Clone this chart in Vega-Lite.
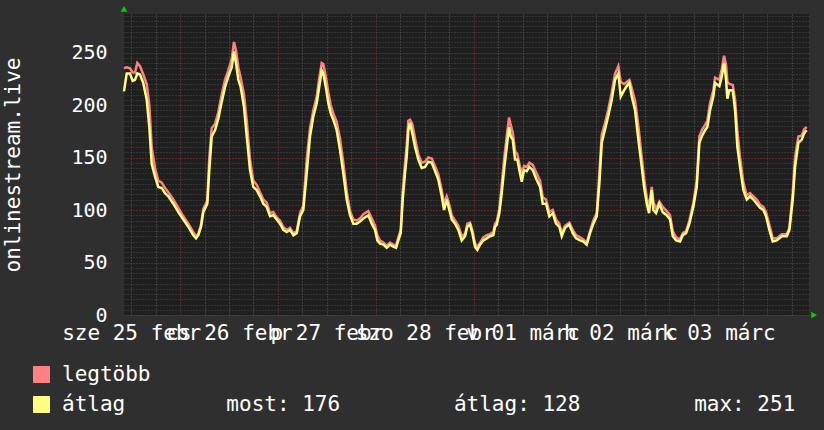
{
  "$schema": "https://vega.github.io/schema/vega-lite/v6.json",
  "width": 685,
  "height": 301,
  "autosize": {"type": "none"},
  "padding": {"left": 124, "top": 14, "right": 15, "bottom": 115},
  "background": "#2f2f2f",
  "config": {
    "view": {"fill": "#1f1f1f", "stroke": null},
    "font": "DejaVu Sans Mono",
    "axis": {
      "labelFont": "DejaVu Sans Mono",
      "labelFontSize": 20,
      "labelColor": "#ffffff",
      "titleFont": "DejaVu Sans Mono",
      "titleFontSize": 21,
      "titleFontWeight": "normal",
      "titleColor": "#ffffff",
      "ticks": false,
      "domain": false
    }
  },
  "data": {
    "values": [
      {"t": 10.25, "legtöbb": 235, "átlag": 213},
      {"t": 10.91, "legtöbb": 236, "átlag": 230},
      {"t": 11.72, "legtöbb": 235, "átlag": 230},
      {"t": 12.38, "legtöbb": 231, "átlag": 223},
      {"t": 12.95, "legtöbb": 231, "átlag": 224},
      {"t": 13.51, "legtöbb": 240, "átlag": 230},
      {"t": 14.17, "legtöbb": 237, "átlag": 229},
      {"t": 14.98, "legtöbb": 229, "átlag": 221},
      {"t": 15.82, "legtöbb": 220, "átlag": 205},
      {"t": 16.46, "legtöbb": 200, "átlag": 179},
      {"t": 17.04, "legtöbb": 160, "átlag": 144},
      {"t": 17.85, "legtöbb": 140, "átlag": 132},
      {"t": 18.66, "legtöbb": 128, "átlag": 122},
      {"t": 19.5, "legtöbb": 126, "átlag": 121},
      {"t": 20.31, "legtöbb": 121, "átlag": 116},
      {"t": 21.12, "legtöbb": 117, "átlag": 113},
      {"t": 22.34, "legtöbb": 110, "átlag": 106},
      {"t": 23.57, "legtöbb": 102, "átlag": 98},
      {"t": 24.8, "legtöbb": 94, "átlag": 91},
      {"t": 26.02, "legtöbb": 87, "átlag": 84},
      {"t": 27.25, "legtöbb": 79, "átlag": 76},
      {"t": 27.91, "legtöbb": 75, "átlag": 73},
      {"t": 28.47, "legtöbb": 77, "átlag": 76},
      {"t": 29.14, "legtöbb": 86, "átlag": 84},
      {"t": 29.7, "legtöbb": 101, "átlag": 98},
      {"t": 30.68, "legtöbb": 109, "átlag": 106},
      {"t": 31.17, "legtöbb": 150, "átlag": 138},
      {"t": 31.76, "legtöbb": 178, "átlag": 170},
      {"t": 32.57, "legtöbb": 182, "átlag": 176},
      {"t": 33.38, "legtöbb": 193, "átlag": 187},
      {"t": 34.21, "legtöbb": 210, "átlag": 203},
      {"t": 35.02, "legtöbb": 224, "átlag": 217},
      {"t": 35.83, "legtöbb": 233, "átlag": 227},
      {"t": 36.67, "legtöbb": 244, "átlag": 236},
      {"t": 37.23, "legtöbb": 260, "átlag": 251},
      {"t": 37.72, "legtöbb": 252, "átlag": 240},
      {"t": 38.29, "legtöbb": 236, "átlag": 224},
      {"t": 38.87, "legtöbb": 226, "átlag": 217},
      {"t": 39.68, "legtöbb": 210, "átlag": 198},
      {"t": 40.35, "legtöbb": 185, "átlag": 170},
      {"t": 41.16, "legtöbb": 148, "átlag": 138},
      {"t": 41.96, "legtöbb": 128, "átlag": 122},
      {"t": 42.8, "legtöbb": 124, "átlag": 119},
      {"t": 43.61, "legtöbb": 117, "átlag": 113},
      {"t": 44.42, "legtöbb": 110, "átlag": 106},
      {"t": 45.25, "legtöbb": 107, "átlag": 103},
      {"t": 46.06, "legtöbb": 97, "átlag": 94},
      {"t": 46.87, "legtöbb": 98, "átlag": 95},
      {"t": 47.7, "legtöbb": 93, "átlag": 91},
      {"t": 48.51, "legtöbb": 90, "átlag": 87},
      {"t": 49.32, "legtöbb": 84, "átlag": 81},
      {"t": 50.16, "legtöbb": 81, "átlag": 79},
      {"t": 50.97, "legtöbb": 83, "átlag": 81},
      {"t": 51.78, "legtöbb": 78, "átlag": 76},
      {"t": 52.61, "legtöbb": 80, "átlag": 78},
      {"t": 53.42, "legtöbb": 97, "átlag": 94},
      {"t": 54.23, "legtöbb": 104, "átlag": 100},
      {"t": 55.06, "legtöbb": 148, "átlag": 135},
      {"t": 55.87, "legtöbb": 178, "átlag": 170},
      {"t": 56.68, "legtöbb": 195, "átlag": 189},
      {"t": 57.52, "legtöbb": 208, "átlag": 202},
      {"t": 58.08, "legtöbb": 224, "átlag": 216},
      {"t": 58.74, "legtöbb": 240, "átlag": 233},
      {"t": 59.13, "legtöbb": 239, "átlag": 230},
      {"t": 59.8, "legtöbb": 226, "átlag": 216},
      {"t": 60.36, "legtöbb": 212, "átlag": 202},
      {"t": 60.95, "legtöbb": 200, "átlag": 192},
      {"t": 61.59, "legtöbb": 192, "átlag": 186},
      {"t": 62.42, "legtöbb": 184, "átlag": 176},
      {"t": 63.23, "legtöbb": 168, "átlag": 157},
      {"t": 64.04, "legtöbb": 145, "átlag": 135},
      {"t": 64.87, "legtöbb": 118, "átlag": 110},
      {"t": 65.68, "legtöbb": 99, "átlag": 95},
      {"t": 66.49, "legtöbb": 91, "átlag": 87},
      {"t": 67.33, "legtöbb": 90, "átlag": 87},
      {"t": 68.14, "legtöbb": 92, "átlag": 89},
      {"t": 68.95, "legtöbb": 96, "átlag": 92},
      {"t": 70.17, "legtöbb": 99, "átlag": 95},
      {"t": 71.01, "legtöbb": 92, "átlag": 87},
      {"t": 71.82, "legtöbb": 85, "átlag": 81},
      {"t": 72.38, "legtöbb": 76, "átlag": 71},
      {"t": 73.04, "legtöbb": 71, "átlag": 68},
      {"t": 73.85, "legtöbb": 69, "átlag": 67},
      {"t": 74.69, "legtöbb": 66, "átlag": 64},
      {"t": 75.49, "legtöbb": 69, "átlag": 67},
      {"t": 76.3, "legtöbb": 67, "átlag": 65},
      {"t": 76.97, "legtöbb": 66, "átlag": 64},
      {"t": 77.53, "legtöbb": 74, "átlag": 71},
      {"t": 78.12, "legtöbb": 81, "átlag": 78},
      {"t": 78.61, "legtöbb": 118, "átlag": 110},
      {"t": 79.17, "legtöbb": 145, "átlag": 135},
      {"t": 79.59, "legtöbb": 162, "átlag": 151},
      {"t": 79.98, "legtöbb": 185, "átlag": 176},
      {"t": 80.4, "legtöbb": 186, "átlag": 183},
      {"t": 80.96, "legtöbb": 182, "átlag": 173},
      {"t": 81.63, "legtöbb": 168, "átlag": 160},
      {"t": 82.44, "legtöbb": 153, "átlag": 148},
      {"t": 83.27, "legtöbb": 145, "átlag": 140},
      {"t": 84.08, "legtöbb": 146, "átlag": 141},
      {"t": 84.89, "legtöbb": 150, "átlag": 146},
      {"t": 85.72, "legtöbb": 149, "átlag": 145},
      {"t": 86.53, "legtöbb": 142, "átlag": 137},
      {"t": 87.34, "legtöbb": 134, "átlag": 129},
      {"t": 88.18, "legtöbb": 119, "átlag": 113},
      {"t": 88.74, "legtöbb": 106, "átlag": 100},
      {"t": 89.4, "legtöbb": 113, "átlag": 110},
      {"t": 90.04, "legtöbb": 105, "átlag": 100},
      {"t": 90.63, "legtöbb": 95, "átlag": 91},
      {"t": 91.44, "legtöbb": 90, "átlag": 87},
      {"t": 92.25, "legtöbb": 85, "átlag": 81},
      {"t": 93.08, "legtöbb": 75, "átlag": 71},
      {"t": 93.89, "legtöbb": 77, "átlag": 75},
      {"t": 94.45, "legtöbb": 87, "átlag": 84},
      {"t": 95.12, "legtöbb": 88, "átlag": 86},
      {"t": 95.68, "legtöbb": 81, "átlag": 78},
      {"t": 96.34, "legtöbb": 68, "átlag": 65},
      {"t": 96.91, "legtöbb": 65, "átlag": 62},
      {"t": 97.57, "legtöbb": 69, "átlag": 67},
      {"t": 98.38, "legtöbb": 74, "átlag": 71},
      {"t": 99.21, "legtöbb": 76, "átlag": 73},
      {"t": 100.02, "legtöbb": 77, "átlag": 75},
      {"t": 100.83, "legtöbb": 79, "átlag": 76},
      {"t": 101.25, "legtöbb": 87, "átlag": 84},
      {"t": 101.67, "legtöbb": 89, "átlag": 86},
      {"t": 102.3, "legtöbb": 101, "átlag": 97},
      {"t": 102.89, "legtöbb": 124, "átlag": 116},
      {"t": 103.46, "legtöbb": 148, "átlag": 138},
      {"t": 104.12, "legtöbb": 170, "átlag": 160},
      {"t": 104.68, "legtöbb": 188, "átlag": 179},
      {"t": 105.1, "legtöbb": 181, "átlag": 170},
      {"t": 105.59, "legtöbb": 174, "átlag": 167},
      {"t": 106.16, "legtöbb": 156, "átlag": 148},
      {"t": 106.72, "legtöbb": 153, "átlag": 148},
      {"t": 107.21, "legtöbb": 144, "átlag": 138},
      {"t": 107.8, "legtöbb": 135, "átlag": 127},
      {"t": 108.36, "legtöbb": 142, "átlag": 138},
      {"t": 109.02, "legtöbb": 141, "átlag": 137},
      {"t": 109.66, "legtöbb": 145, "átlag": 141},
      {"t": 110.5, "legtöbb": 143, "átlag": 138},
      {"t": 111.31, "legtöbb": 136, "átlag": 130},
      {"t": 112.29, "legtöbb": 128, "átlag": 122},
      {"t": 112.95, "legtöbb": 112, "átlag": 106},
      {"t": 113.76, "legtöbb": 110, "átlag": 106},
      {"t": 114.57, "legtöbb": 98, "átlag": 94},
      {"t": 115.4, "legtöbb": 100, "átlag": 97},
      {"t": 116.21, "legtöbb": 91, "átlag": 87},
      {"t": 117.02, "legtöbb": 87, "átlag": 84},
      {"t": 117.61, "legtöbb": 78, "átlag": 75},
      {"t": 118.42, "legtöbb": 85, "átlag": 83},
      {"t": 119.47, "legtöbb": 88, "átlag": 86},
      {"t": 120.31, "legtöbb": 81, "átlag": 78},
      {"t": 121.12, "legtöbb": 76, "átlag": 73},
      {"t": 122.1, "legtöbb": 74, "átlag": 71},
      {"t": 122.91, "legtöbb": 72, "átlag": 70},
      {"t": 123.74, "legtöbb": 69, "átlag": 67},
      {"t": 124.55, "legtöbb": 80, "átlag": 78},
      {"t": 125.36, "legtöbb": 90, "átlag": 87},
      {"t": 126.19, "legtöbb": 97, "átlag": 94},
      {"t": 126.83, "legtöbb": 135, "átlag": 125},
      {"t": 127.42, "legtöbb": 172, "átlag": 164},
      {"t": 128.23, "legtöbb": 183, "átlag": 177},
      {"t": 129.04, "legtöbb": 196, "átlag": 190},
      {"t": 129.87, "legtöbb": 212, "átlag": 205},
      {"t": 130.68, "legtöbb": 230, "átlag": 224},
      {"t": 131.49, "legtöbb": 237, "átlag": 230},
      {"t": 132.08, "legtöbb": 222, "átlag": 208},
      {"t": 132.89, "legtöbb": 220, "átlag": 214},
      {"t": 133.55, "legtöbb": 222, "átlag": 218},
      {"t": 134.19, "legtöbb": 224, "átlag": 221},
      {"t": 134.78, "legtöbb": 216, "átlag": 208},
      {"t": 135.59, "legtöbb": 204, "átlag": 195},
      {"t": 136.4, "legtöbb": 180, "átlag": 167},
      {"t": 137.23, "legtöbb": 150, "átlag": 141},
      {"t": 137.8, "legtöbb": 130, "átlag": 122},
      {"t": 138.46, "legtöbb": 112, "átlag": 106},
      {"t": 139.02, "legtöbb": 102, "átlag": 97},
      {"t": 139.68, "legtöbb": 122, "átlag": 119},
      {"t": 140.08, "legtöbb": 108, "átlag": 100},
      {"t": 140.74, "legtöbb": 101, "átlag": 97},
      {"t": 141.55, "legtöbb": 108, "átlag": 106},
      {"t": 142.38, "legtöbb": 103, "átlag": 98},
      {"t": 143.36, "legtöbb": 99, "átlag": 95},
      {"t": 144.17, "legtöbb": 95, "átlag": 91},
      {"t": 144.84, "legtöbb": 80, "átlag": 75},
      {"t": 145.65, "legtöbb": 74, "átlag": 71},
      {"t": 146.63, "legtöbb": 72, "átlag": 70},
      {"t": 147.29, "legtöbb": 78, "átlag": 76},
      {"t": 148.1, "legtöbb": 80, "átlag": 78},
      {"t": 148.91, "legtöbb": 90, "átlag": 87},
      {"t": 149.89, "legtöbb": 107, "átlag": 103},
      {"t": 150.72, "legtöbb": 128, "átlag": 122},
      {"t": 151.36, "legtöbb": 170, "átlag": 164},
      {"t": 151.95, "legtöbb": 176, "átlag": 170},
      {"t": 152.76, "legtöbb": 181, "átlag": 176},
      {"t": 153.32, "legtöbb": 185, "átlag": 179},
      {"t": 153.98, "legtöbb": 202, "átlag": 195},
      {"t": 154.79, "legtöbb": 214, "átlag": 208},
      {"t": 155.21, "legtöbb": 226, "átlag": 221},
      {"t": 156.27, "legtöbb": 224, "átlag": 218},
      {"t": 156.85, "legtöbb": 234, "átlag": 227},
      {"t": 157.42, "legtöbb": 247, "átlag": 240},
      {"t": 157.91, "legtöbb": 238, "átlag": 224},
      {"t": 158.23, "legtöbb": 222, "átlag": 206},
      {"t": 158.72, "legtöbb": 220, "átlag": 214},
      {"t": 159.55, "legtöbb": 219, "átlag": 214},
      {"t": 160.12, "legtöbb": 205, "átlag": 195},
      {"t": 160.68, "legtöbb": 175, "átlag": 160},
      {"t": 161.34, "legtöbb": 150, "átlag": 141},
      {"t": 162.15, "legtöbb": 126, "átlag": 119},
      {"t": 162.99, "legtöbb": 114, "átlag": 110},
      {"t": 163.8, "legtöbb": 116, "átlag": 113},
      {"t": 164.61, "legtöbb": 113, "átlag": 110},
      {"t": 165.44, "legtöbb": 110, "átlag": 106},
      {"t": 166.25, "legtöbb": 105, "átlag": 102},
      {"t": 167.06, "legtöbb": 103, "átlag": 100},
      {"t": 167.72, "legtöbb": 98, "átlag": 94},
      {"t": 168.53, "legtöbb": 86, "átlag": 81},
      {"t": 169.36, "legtöbb": 73, "átlag": 70},
      {"t": 170.34, "legtöbb": 73, "átlag": 71},
      {"t": 171.57, "legtöbb": 77, "átlag": 75},
      {"t": 172.8, "legtöbb": 77, "átlag": 75},
      {"t": 173.44, "legtöbb": 83, "átlag": 81},
      {"t": 174.27, "legtöbb": 117, "átlag": 110},
      {"t": 174.83, "legtöbb": 150, "átlag": 141},
      {"t": 175.64, "legtöbb": 170, "átlag": 164},
      {"t": 176.48, "legtöbb": 171, "átlag": 167},
      {"t": 177.04, "legtöbb": 177, "átlag": 173},
      {"t": 177.7, "legtöbb": 179, "átlag": 176}
    ]
  },
  "layer": [
    {
      "mark": {"type": "line", "strokeWidth": 2.5, "interpolate": "linear"},
      "encoding": {
        "x": {
          "field": "t",
          "type": "quantitative",
          "scale": {"domain": [10.25, 178.25], "nice": false, "zero": false},
          "axis": {
            "orient": "bottom",
            "values": [12, 18, 30, 36, 42, 54, 60, 66, 78, 84, 90, 102, 108, 114, 126, 132, 138, 150, 156, 162, 174],
            "grid": true,
            "gridColor": "#606060",
            "gridDash": [1, 2],
            "gridWidth": 1,
            "labels": false,
            "title": null
          }
        },
        "y": {
          "field": "legtöbb",
          "type": "quantitative",
          "scale": {"domain": [0, 286.67], "nice": false},
          "axis": {
            "orient": "left",
            "values": [5, 10, 15, 20, 25, 30, 35, 40, 45, 55, 60, 65, 70, 75, 80, 85, 90, 95, 105, 110, 115, 120, 125, 130, 135, 140, 145, 155, 160, 165, 170, 175, 180, 185, 190, 195, 205, 210, 215, 220, 225, 230, 235, 240, 245, 255, 260, 265, 270, 275, 280, 285],
            "grid": true,
            "gridColor": "#4a4a4a",
            "gridDash": [1, 2],
            "gridWidth": 1,
            "labels": false,
            "title": null
          }
        },
        "color": {
          "datum": "legtöbb",
          "type": "nominal",
          "scale": {"domain": ["legtöbb", "átlag"], "range": ["#ff8080", "#ffff80"]},
          "legend": {
            "orient": "none",
            "legendX": -93,
            "legendY": 350,
            "title": null,
            "padding": 0,
            "symbolType": "square",
            "symbolSize": 256,
            "symbolStrokeWidth": 1,
            "labelFont": "DejaVu Sans Mono",
            "labelFontSize": 21,
            "labelColor": "#ffffff",
            "labelOffset": 10,
            "labelLimit": 900,
            "rowPadding": 8,
            "labelExpr": "datum.label == 'átlag' ? 'átlag\u00a0\u00a0\u00a0\u00a0\u00a0\u00a0\u00a0\u00a0most: 176\u00a0\u00a0\u00a0\u00a0\u00a0\u00a0\u00a0\u00a0\u00a0átlag: 128\u00a0\u00a0\u00a0\u00a0\u00a0\u00a0\u00a0\u00a0\u00a0max: 251' : datum.label",
            "encode": {
              "symbols": {
                "update": {
                  "fill": {"scale": "color", "field": "value"},
                  "fillOpacity": {"value": 1},
                  "stroke": {"value": "#000000"},
                  "strokeWidth": {"value": 1}
                }
              }
            }
          }
        }
      }
    },
    {
      "mark": {"type": "line", "strokeWidth": 2.5, "interpolate": "linear"},
      "encoding": {
        "x": {
          "field": "t",
          "type": "quantitative",
          "axis": {
            "orient": "bottom",
            "values": [24, 48, 72, 96, 120, 144, 168],
            "grid": true,
            "gridColor": "#8c3a3a",
            "gridDash": [1, 2],
            "gridWidth": 1,
            "labels": true,
            "labelFontSize": 21,
            "labelOffset": -48.9,
            "labelPadding": 7,
            "labelOverlap": false,
            "labelFlush": false,
            "labelBound": false,
            "labelExpr": "['sze 25 febr', 'cs 26 febr', 'p 27 febr', 'szo 28 febr', 'v 01 márc', 'h 02 márc', 'k 03 márc'][round(datum.value / 24) - 1]",
            "title": null
          }
        },
        "y": {
          "field": "átlag",
          "type": "quantitative",
          "axis": {
            "orient": "left",
            "values": [0, 50, 100, 150, 200, 250],
            "grid": true,
            "gridColor": "#8c3a3a",
            "gridDash": [1, 2],
            "gridWidth": 1,
            "labelPadding": 17,
            "labelOverlap": false,
            "labelFlush": false,
            "title": "onlinestream.live",
            "titleAngle": -90,
            "titleX": -111,
            "titleY": 150.5,
            "titleAlign": "center",
            "titleBaseline": "middle"
          }
        },
        "color": {"datum": "átlag", "type": "nominal"}
      }
    },
    {
      "data": {"values": [{}]},
      "mark": {"type": "point", "shape": "triangle-up", "filled": true, "size": 45, "color": "#00d000", "opacity": 1},
      "encoding": {
        "x": {"datum": 10.25, "type": "quantitative", "axis": null},
        "y": {"datum": 291.5, "type": "quantitative", "axis": null}
      }
    },
    {
      "data": {"values": [{}]},
      "mark": {"type": "point", "shape": "triangle-right", "filled": true, "size": 45, "color": "#00d000", "opacity": 1},
      "encoding": {
        "x": {"datum": 179.5, "type": "quantitative", "axis": null},
        "y": {"datum": 0, "type": "quantitative", "axis": null}
      }
    }
  ],
  "resolve": {"axis": {"x": "independent", "y": "independent"}}
}
